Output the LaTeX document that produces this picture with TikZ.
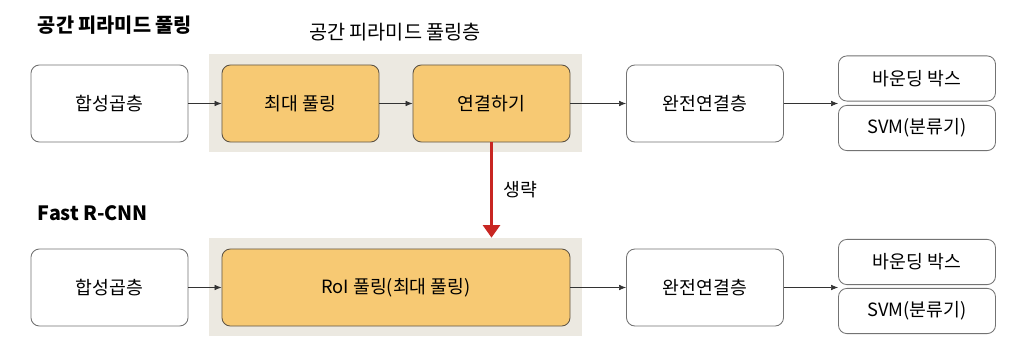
\documentclass[tikz,border=0pt]{standalone}
\usepackage{fontspec}
\setmainfont{Noto Sans CJK KR}
\usetikzlibrary{arrows.meta}
\definecolor{poolfill}{RGB}{247,201,115}
\definecolor{poolline}{RGB}{95,85,70}
\definecolor{bggray}{RGB}{236,233,225}
\definecolor{skipred}{RGB}{200,38,34}
\tikzset{
  layer/.style={draw=black!55, rounded corners=6pt, fill=white, line width=0.6pt,
    minimum width=3.925cm, minimum height=1.925cm, font=\fontsize{13}{15}\selectfont},
  poolbox/.style={layer, fill=poolfill, draw=poolline},
  outbox/.style={layer, minimum height=1.13cm},
  flow/.style={-{Latex[length=5pt,width=4pt]}, black!80, line width=0.5pt},
  title/.style={font=\bfseries\fontsize{14}{16}\selectfont, anchor=west}
}
\begin{document}
\begin{tikzpicture}[x=0.025cm, y=-0.025cm]
    \useasboundingbox (0,0) rectangle (1030,354);
    % Spatial pyramid pooling
    \node[title] (spptitle) at (33,25) {공간 피라미드 풀링};
    \node[font=\fontsize{14}{16}\selectfont] (spplabel) at (395,32) {공간 피라미드 풀링층};
    \fill[bggray] (209,54) rectangle (582,152);
    \node[layer] (conva) at (109.5,103.5) {합성곱층};
    \node[poolbox] (maxpool) at (300.5,103.5) {최대 풀링};
    \node[poolbox] (concat) at (491.5,103.5) {연결하기};
    \node[layer] (fca) at (705,103.5) {완전연결층};
    \node[outbox] (bboxa) at (917,78.5) {바운딩 박스};
    \node[outbox] (svma) at (917,128) {SVM(분류기)};
    \draw[flow] (conva) -- (maxpool);
    \draw[flow] (maxpool) -- (concat);
    \draw[flow] (concat) -- (fca);
    \draw[flow] (fca.east) -- (fca.east -| bboxa.west);
    % Fast R-CNN
    \node[title] (frcnntitle) at (33,213) {Fast R-CNN};
    \node[fill=bggray, minimum width=9.325cm, minimum height=2.45cm, inner sep=0pt] (bgb) at (395.5,287) {};
    \node[layer] (convb) at (109.5,287.5) {합성곱층};
    \node[poolbox, minimum width=8.7cm] (roipool) at (396,287.5) {RoI 풀링(최대 풀링)};
    \node[layer] (fcb) at (705,287.5) {완전연결층};
    \node[outbox] (bboxb) at (917,262) {바운딩 박스};
    \node[outbox] (svmb) at (917,311) {SVM(분류기)};
    \draw[flow] (convb) -- (roipool);
    \draw[flow] (roipool) -- (fcb);
    \draw[flow] (fcb.east) -- (fcb.east -| bboxb.west);
    % Skipped step
    \draw[skipred, line width=2.8pt, -{Triangle[length=9pt,width=12pt]}]
        (concat.south) -- (concat.south |- bgb.north)
        node[midway, right=4pt, black, font=\fontsize{13}{15}\selectfont] (skiplabel) {생략};
\end{tikzpicture}
\end{document}
